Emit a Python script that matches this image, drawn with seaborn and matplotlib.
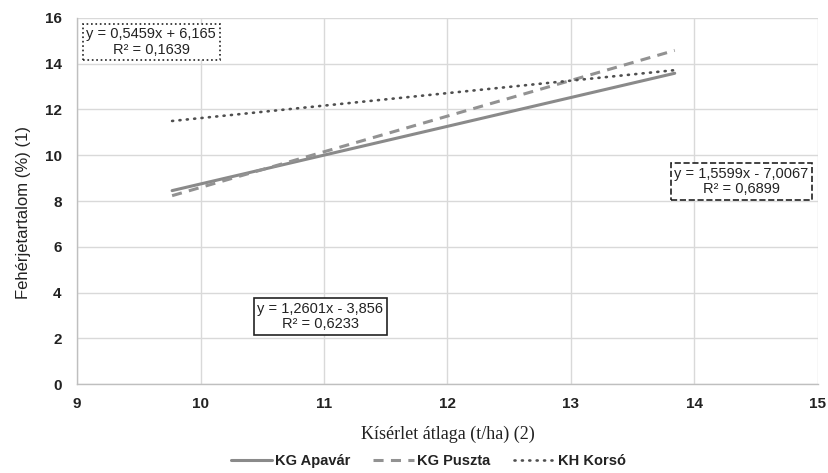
import numpy as np
import pandas as pd
import matplotlib
matplotlib.use("Agg")
import matplotlib.pyplot as plt
import seaborn as sns

# Linear trendlines: y = slope * x + intercept over the observed yield range
series = ["KG Apavár", "KG Puszta", "KH Korsó"]
slopes = [1.2601, 1.5599, 0.5459]
intercepts = [-3.856, -7.0067, 6.165]
r_squared = [0.6233, 0.6899, 0.1639]
x_start = [9.77, 9.77, 9.77]
x_end = [13.84, 13.84, 13.84]
equation_labels = ["y = 1,2601x - 3,856\nR² = 0,6233",
                   "y = 1,5599x - 7,0067\nR² = 0,6899",
                   "y = 0,5459x + 6,165\nR² = 0,1639"]

x_ticks = [9, 10, 11, 12, 13, 14, 15]
y_ticks = [0, 2, 4, 6, 8, 10, 12, 14, 16]

rows = []
for name, m, b, x0, x1 in zip(series, slopes, intercepts, x_start, x_end):
    for x in (x0, x1):
        rows.append({"x": x, "y": m * x + b, "series": name})
df = pd.DataFrame(rows)

sns.set_theme(style="white")
plt.rcParams["font.family"] = ["Liberation Sans", "DejaVu Sans"]

fig = plt.figure(figsize=(8.29, 4.73), dpi=100)
ax = fig.add_axes([0.0929, 0.188, 0.8938, 0.774])

colors = {"KG Apavár": "#8a8a8a", "KG Puszta": "#929292", "KH Korsó": "#4f4f4f"}
styles = {"KG Apavár": "-", "KG Puszta": (0, (3.3, 2.4)), "KH Korsó": (0, (0.4, 2.4))}
widths = {"KG Apavár": 2.2, "KG Puszta": 2.2, "KH Korsó": 1.9}

for name in series:
    sub = df[df["series"] == name]
    sns.lineplot(data=sub, x="x", y="y", ax=ax, color=colors[name],
                 linestyle=styles[name], linewidth=widths[name], label=name,
                 dash_capstyle="round" if name == "KH Korsó" else "butt")

ax.set_xlim(9, 15)
ax.set_ylim(0, 16)
ax.set_xticks(x_ticks)
ax.set_yticks(y_ticks)
ax.set_xticklabels([str(v) for v in x_ticks], fontsize=11, fontweight="bold")
ax.set_yticklabels([str(v) for v in y_ticks], fontsize=11, fontweight="bold")
ax.tick_params(axis="x", length=0, pad=9, colors="#222222")
ax.tick_params(axis="y", length=0, pad=11, colors="#222222")
ax.grid(True, color="#d9d9d9", linewidth=1.0)
for side in ["top", "right"]:
    ax.spines[side].set_visible(False)
for side in ["left", "bottom"]:
    ax.spines[side].set_color("#bfbfbf")
    ax.spines[side].set_linewidth(1.0)

ax.set_xlabel("Kísérlet átlaga (t/ha) (2)", family=["Liberation Serif"],
              fontsize=13, color="#222222", labelpad=11)
ax.set_ylabel("Fehérjetartalom (%) (1)", fontsize=12, color="#222222")
ax.yaxis.set_label_coords(-0.062, 0.47)

# Equation boxes
box_specs = [
    (equation_labels[0], 10.97, 2.95, "solid"),
    (equation_labels[1], 14.38, 8.85, "dashed"),
    (equation_labels[2], 9.60, 14.95, "dotted"),
]
for text, bx, by, ls in box_specs:
    ax.text(bx, by, text, ha="center", va="center", fontsize=10.5,
            color="#222222", linespacing=1.1, zorder=5,
            bbox=dict(boxstyle="square,pad=0.25", facecolor="white",
                      edgecolor="#222222", linewidth=1.2, linestyle=ls))

leg = ax.legend(loc="center", bbox_to_anchor=(0.474, -0.21), ncol=3,
                frameon=False, prop={"weight": "bold", "size": 10.5},
                handlelength=2.8, columnspacing=1.6, handletextpad=0.2)
for t in leg.get_texts():
    t.set_color("#222222")

fig.savefig("out.png", dpi=100)
